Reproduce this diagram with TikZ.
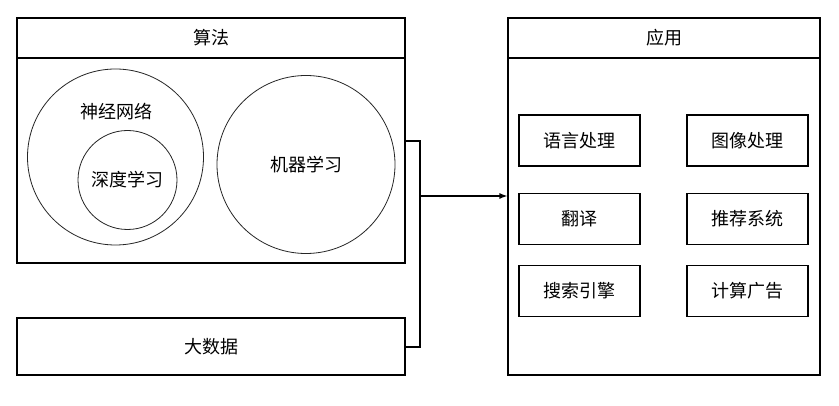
\documentclass[tikz,border=0pt]{standalone}
\usepackage{fontspec}
\newfontfamily\cjk{Noto Sans CJK SC}
\usetikzlibrary{arrows.meta, positioning}

\tikzset{
  frame/.style={draw, line width=1.2pt, inner sep=0pt, font=\cjk\fontsize{18}{22}\selectfont},
  appbox/.style={frame, minimum width=121pt, minimum height=51pt},
  ring/.style={draw=black!85, circle, line width=0.8pt, inner sep=0pt, font=\cjk\fontsize{18}{22}\selectfont},
  txt/.style={inner sep=0pt, font=\cjk\fontsize{18}{22}\selectfont},
  link/.style={line width=1.2pt},
}

\begin{document}
\begin{tikzpicture}[x=1pt, y=-1pt]
    \useasboundingbox[fill=white] (0,0) rectangle (839,406);
    % Algorithm block
    \node[frame, minimum width=388pt, minimum height=40pt] (alghead) at (211,38) {算法};
    \node[frame, minimum width=388pt, minimum height=205pt] (algbody) at (211,160.5) {};
    \node[ring, minimum size=176pt] (nn) at (115.5,157) {};
    \node[txt] (nnlabel) at (116,112) {神经网络};
    \node[ring, minimum size=99pt] (dl) at (127.5,180) {深度学习};
    \node[ring, minimum size=178pt] (ml) at (306,164.5) {机器学习};
    % Big data
    \node[frame, minimum width=388pt, minimum height=57pt] (data) at (211,346.5) {大数据};
    % Application block
    \node[frame, minimum width=312pt, minimum height=40pt] (apphead) at (664,38) {应用};
    \node[frame, minimum width=312pt, minimum height=317pt] (appbody) at (664,216.5) {};
    \node[appbox] (lang) at (579.5,140.5) {语言处理};
    \node[appbox] (image) at (747.5,140.5) {图像处理};
    \node[appbox] (trans) at (579.5,219) {翻译};
    \node[appbox] (recom) at (747.5,219) {推荐系统};
    \node[appbox] (search) at (579.5,291) {搜索引擎};
    \node[appbox] (ads) at (747.5,291) {计算广告};
    % Connectors
    \coordinate (jtop) at (420,141);
    \coordinate (jbot) at (420,347);
    \coordinate (jmid) at (420,196);
    \draw[link] (algbody.east |- jtop) -- (jtop) -- (jbot) -- (data.east |- jbot);
    \draw[link, -{Latex[length=8pt, width=6pt]}] (jmid) -- (appbody.west |- jmid);
\end{tikzpicture}
\end{document}
